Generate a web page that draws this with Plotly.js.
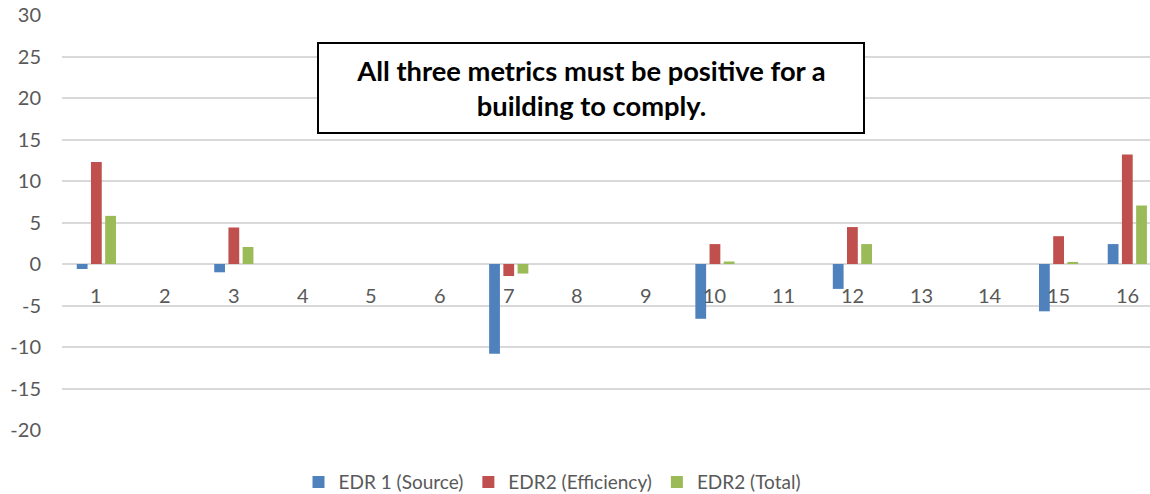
<!DOCTYPE html>
<html>
<head>
<meta charset="utf-8">
<script src="https://cdn.plot.ly/plotly-3.0.1.min.js"></script>
<style>html,body{margin:0;padding:0;background:#fff;}#chart{width:1150px;height:494px;}</style>
</head>
<body>
<div id="chart"></div>
<script>
const categories = [1, 2, 3, 4, 5, 6, 7, 8, 9, 10, 11, 12, 13, 14, 15, 16];
const edr1Source = [-0.6, 0, -1.0, 0, 0, 0, -10.8, 0, 0, -6.6, 0, -3.0, 0, 0, -5.7, 2.4];
const edr2Efficiency = [12.3, 0, 4.4, 0, 0, 0, -1.45, 0, 0, 2.4, 0, 4.45, 0, 0, 3.35, 13.2];
const edr2Total = [5.8, 0, 2.05, 0, 0, 0, -1.15, 0, 0, 0.3, 0, 2.4, 0, 0, 0.25, 7.05];
const seriesNames = ["EDR 1 (Source)", "EDR2 (Efficiency)", "EDR2 (Total)"];
const yTicks = [-20, -15, -10, -5, 0, 5, 10, 15, 20, 25, 30];
const noteText = "All three metrics must be positive for a<br>building to comply.";

const FONT = "Lato, 'Open Sans', sans-serif";
const colors = ["#4F81BD", "#C0504D", "#9BBB59"];
const seriesData = [edr1Source, edr2Efficiency, edr2Total];

const traces = seriesData.map((vals, i) => ({
  type: "bar",
  name: seriesNames[i],
  x: categories,
  y: vals,
  marker: { color: colors[i], line: { width: 0 } },
  hoverinfo: "x+y+name"
}));

const catAnnotations = categories.map(c => ({
  x: c, y: 0, xref: "x", yref: "y",
  text: String(c), showarrow: false,
  yanchor: "middle", yshift: -31,
  font: { family: FONT, size: 20, color: "#595959" }
}));

const layout = {
  width: 1150, height: 494,
  margin: { l: 62, r: 0, t: 15, b: 64, autoexpand: false },
  paper_bgcolor: "#ffffff",
  plot_bgcolor: "#ffffff",
  barmode: "group",
  bargap: 0.38,
  bargroupgap: 0.24,
  font: { family: FONT, color: "#595959" },
  xaxis: {
    range: [0.5, 16.33],
    showticklabels: false,
    showgrid: false,
    zeroline: false,
    showline: false,
    ticks: "",
    fixedrange: true
  },
  yaxis: {
    range: [-20, 30],
    tickvals: yTicks,
    ticktext: yTicks.map(String),
    showgrid: true,
    gridcolor: "#D9D9D9",
    gridwidth: 1.5,
    zeroline: true,
    zerolinecolor: "#D9D9D9",
    zerolinewidth: 1.5,
    showline: false,
    ticks: "",
    ticklabelstandoff: 20,
    tickfont: { family: FONT, size: 20, color: "#595959" },
    fixedrange: true
  },
  showlegend: true,
  legend: {
    orientation: "h",
    xref: "container", yref: "container",
    x: 0.48, xanchor: "center",
    y: 0.024, yanchor: "middle",
    font: { family: FONT, size: 19, color: "#595959" },
    itemwidth: 30,
    traceorder: "normal"
  },
  annotations: catAnnotations.concat([{
    xref: "paper", yref: "paper",
    x: 0.486, y: 0.824,
    xanchor: "center", yanchor: "middle",
    text: "<b>" + noteText + "</b>",
    showarrow: false,
    width: 544, height: 88,
    borderpad: 0,
    bordercolor: "#000000",
    borderwidth: 2,
    bgcolor: "#ffffff",
    align: "center",
    font: { family: FONT, size: 27.3, color: "#000000" }
  }])
};

Plotly.newPlot("chart", traces, layout, { displayModeBar: false });
</script>
</body>
</html>
